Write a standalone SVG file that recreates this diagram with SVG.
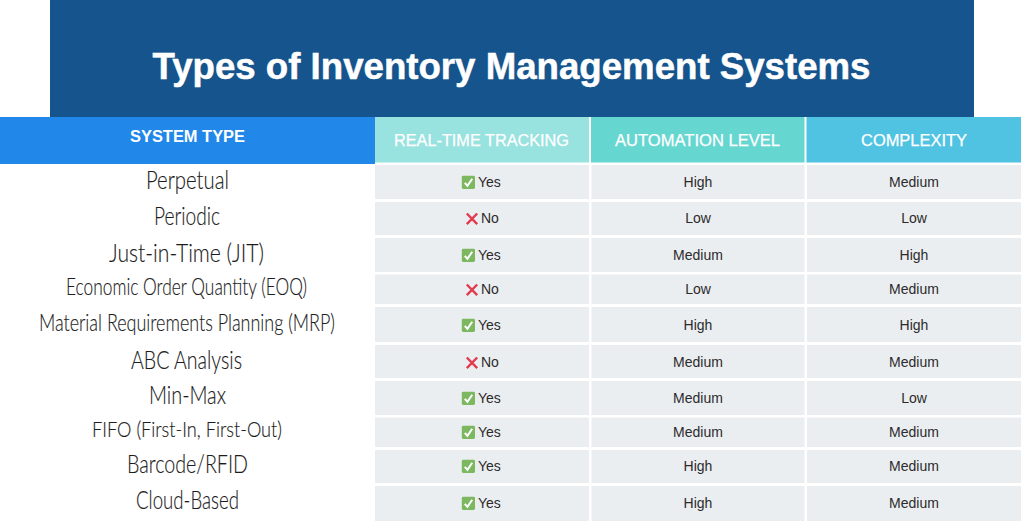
<svg xmlns="http://www.w3.org/2000/svg" xmlns:xlink="http://www.w3.org/1999/xlink" width="1024" height="521" viewBox="0 0 1024 521">
<style>
.sans{font-family:"Liberation Sans",Arial,sans-serif}
.title{font-size:37px;font-weight:700;fill:#fff;stroke:#fff;stroke-width:.5;text-anchor:middle}
.h{font-size:16.5px;fill:#fff;stroke:#fff;stroke-width:.25;text-anchor:middle}
.hb{font-size:16px;font-weight:700;fill:#fff;text-anchor:middle}
.c{font-size:14px;fill:#2b2b2b;text-anchor:middle}
.l{font-size:14px;fill:#2b2b2b}
.cell{fill:#ebeef1}
.n{font-family:Lato,"Open Sans",sans-serif;font-weight:300;fill:#1c1c1c;stroke:#1c1c1c;stroke-width:.15}
</style>
<defs>
<g id="check"><rect x="0" y="0" width="13.2" height="13.2" rx="1.4" fill="#7cb85f"/><path d="M3 7l2.600 3L10.400 3" fill="none" stroke="#fff" stroke-width="2"/></g>
<g id="cross"><path d="M1 1L11.400 11.600M11.400 1L1 11.600" fill="none" stroke="#e23b50" stroke-width="2.400"/></g>
</defs>
<rect width="1024" height="521" fill="#fff"/>
<g id="banner">
<rect x="50" y="0" width="924" height="117" fill="#15548c"/>
<text class="sans title" x="511.500" y="79" textLength="718" lengthAdjust="spacingAndGlyphs">Types of Inventory Management Systems</text>
</g>
<g id="header">
<rect x="0" y="117" width="375" height="47" fill="#2187e8"/>
<rect x="375" y="117" width="214" height="45.500" fill="#98e2df"/>
<rect x="591" y="117" width="213.500" height="45.500" fill="#66d6d1"/>
<rect x="806.500" y="117" width="214.500" height="45.500" fill="#50c3e2"/>
<text class="sans hb" x="187.500" y="142" textLength="115" lengthAdjust="spacingAndGlyphs">SYSTEM TYPE</text>
<text class="sans h" x="481.500" y="145.500" textLength="175" lengthAdjust="spacingAndGlyphs">REAL-TIME TRACKING</text>
<text class="sans h" x="697.500" y="145.500" textLength="165" lengthAdjust="spacingAndGlyphs">AUTOMATION LEVEL</text>
<text class="sans h" x="914" y="145.500" textLength="106" lengthAdjust="spacingAndGlyphs">COMPLEXITY</text>
</g>
<g id="cells">
<rect class="cell" x="375" y="165" width="214" height="34"/><rect class="cell" x="591.500" y="165" width="213" height="34"/><rect class="cell" x="807" y="165" width="214" height="34"/>
<rect class="cell" x="375" y="202" width="214" height="33"/><rect class="cell" x="591.500" y="202" width="213" height="33"/><rect class="cell" x="807" y="202" width="214" height="33"/>
<rect class="cell" x="375" y="238" width="214" height="34"/><rect class="cell" x="591.500" y="238" width="213" height="34"/><rect class="cell" x="807" y="238" width="214" height="34"/>
<rect class="cell" x="375" y="274.500" width="214" height="29.500"/><rect class="cell" x="591.500" y="274.500" width="213" height="29.500"/><rect class="cell" x="807" y="274.500" width="214" height="29.500"/>
<rect class="cell" x="375" y="307" width="214" height="35"/><rect class="cell" x="591.500" y="307" width="213" height="35"/><rect class="cell" x="807" y="307" width="214" height="35"/>
<rect class="cell" x="375" y="345" width="214" height="33"/><rect class="cell" x="591.500" y="345" width="213" height="33"/><rect class="cell" x="807" y="345" width="214" height="33"/>
<rect class="cell" x="375" y="381" width="214" height="34"/><rect class="cell" x="591.500" y="381" width="213" height="34"/><rect class="cell" x="807" y="381" width="214" height="34"/>
<rect class="cell" x="375" y="417.500" width="214" height="29.500"/><rect class="cell" x="591.500" y="417.500" width="213" height="29.500"/><rect class="cell" x="807" y="417.500" width="214" height="29.500"/>
<rect class="cell" x="375" y="450" width="214" height="33"/><rect class="cell" x="591.500" y="450" width="213" height="33"/><rect class="cell" x="807" y="450" width="214" height="33"/>
<rect class="cell" x="375" y="486" width="214" height="35"/><rect class="cell" x="591.500" y="486" width="213" height="35"/><rect class="cell" x="807" y="486" width="214" height="35"/>
</g>
<g id="names" text-anchor="start">
<text class="n" x="146" y="188.500" font-size="25" textLength="83" lengthAdjust="spacingAndGlyphs">Perpetual</text>
<text class="n" x="154" y="225" font-size="25" textLength="66" lengthAdjust="spacingAndGlyphs">Periodic</text>
<text class="n" x="109" y="262" font-size="25" textLength="155" lengthAdjust="spacingAndGlyphs">Just-in-Time (JIT)</text>
<text class="n" x="66" y="295" font-size="23" textLength="241" lengthAdjust="spacingAndGlyphs">Economic Order Quantity (EOQ)</text>
<text class="n" x="39" y="331" font-size="23" textLength="296" lengthAdjust="spacingAndGlyphs">Material Requirements Planning (MRP)</text>
<text class="n" x="131" y="368.500" font-size="25" textLength="111" lengthAdjust="spacingAndGlyphs">ABC Analysis</text>
<text class="n" x="149" y="404" font-size="25" textLength="77" lengthAdjust="spacingAndGlyphs">Min-Max</text>
<text class="n" x="92" y="437" font-size="21" textLength="190" lengthAdjust="spacingAndGlyphs">FIFO (First-In, First-Out)</text>
<text class="n" x="127" y="473" font-size="25" textLength="121" lengthAdjust="spacingAndGlyphs">Barcode/RFID</text>
<text class="n" x="136" y="508.500" font-size="25" textLength="103" lengthAdjust="spacingAndGlyphs">Cloud-Based</text>
</g>
<g id="tracking">
<use xlink:href="#check" href="#check" x="461.800" y="175.800"/><text class="sans l" x="478" y="187">Yes</text>
<use xlink:href="#cross" href="#cross" x="465.800" y="212.500"/><text class="sans l" x="481" y="223">No</text>
<use xlink:href="#check" href="#check" x="461.800" y="248.800"/><text class="sans l" x="478" y="260">Yes</text>
<use xlink:href="#cross" href="#cross" x="465.800" y="283.500"/><text class="sans l" x="481" y="294">No</text>
<use xlink:href="#check" href="#check" x="461.800" y="318.800"/><text class="sans l" x="478" y="330">Yes</text>
<use xlink:href="#cross" href="#cross" x="465.800" y="356.500"/><text class="sans l" x="481" y="367">No</text>
<use xlink:href="#check" href="#check" x="461.800" y="391.800"/><text class="sans l" x="478" y="403">Yes</text>
<use xlink:href="#check" href="#check" x="461.800" y="425.800"/><text class="sans l" x="478" y="437">Yes</text>
<use xlink:href="#check" href="#check" x="461.800" y="459.800"/><text class="sans l" x="478" y="471">Yes</text>
<use xlink:href="#check" href="#check" x="461.800" y="496.800"/><text class="sans l" x="478" y="508">Yes</text>
</g>
<g id="automation" class="sans">
<text class="c" x="698" y="187">High</text>
<text class="c" x="698" y="223">Low</text>
<text class="c" x="698" y="260">Medium</text>
<text class="c" x="698" y="294">Low</text>
<text class="c" x="698" y="330">High</text>
<text class="c" x="698" y="367">Medium</text>
<text class="c" x="698" y="403">Medium</text>
<text class="c" x="698" y="437">Medium</text>
<text class="c" x="698" y="471">High</text>
<text class="c" x="698" y="508">High</text>
</g>
<g id="complexity" class="sans">
<text class="c" x="914" y="187">Medium</text>
<text class="c" x="914" y="223">Low</text>
<text class="c" x="914" y="260">High</text>
<text class="c" x="914" y="294">Medium</text>
<text class="c" x="914" y="330">High</text>
<text class="c" x="914" y="367">Medium</text>
<text class="c" x="914" y="403">Low</text>
<text class="c" x="914" y="437">Medium</text>
<text class="c" x="914" y="471">Medium</text>
<text class="c" x="914" y="508">Medium</text>
</g>
</svg>
